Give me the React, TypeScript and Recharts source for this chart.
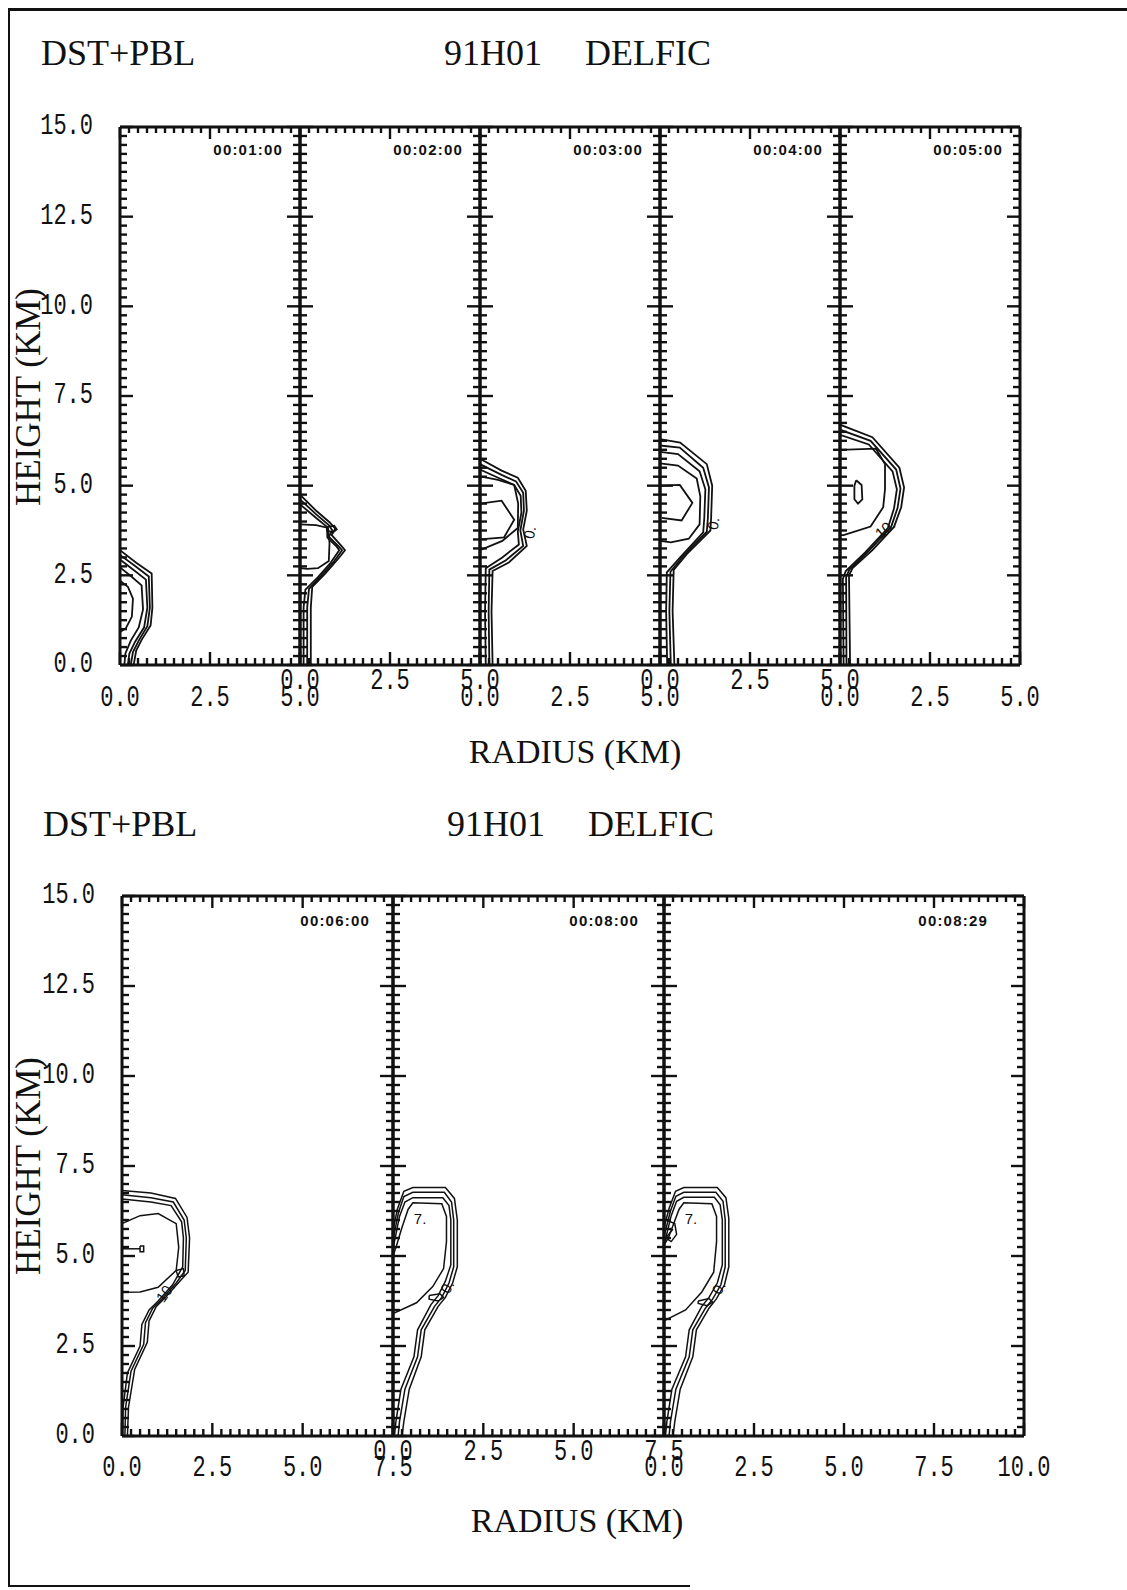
import React from "react";
import { LineChart, Line, XAxis, YAxis, ReferenceDot } from "recharts";

type XY = [number, number];
type Note = { x: number; y: number; text: string; angle?: number };

// axis tick labels
const Y_LABELS = ["0.0", "2.5", "5.0", "7.5", "10.0", "12.5", "15.0"];
const X_LABELS_5 = ["0.0", "2.5", "5.0"];
const X_LABELS_75 = ["0.0", "2.5", "5.0", "7.5"];
const X_LABELS_10 = ["0.0", "2.5", "5.0", "7.5", "10.0"];

const TOP_TIMES = ["00:01:00", "00:02:00", "00:03:00", "00:04:00", "00:05:00"];
const BOTTOM_TIMES = ["00:06:00", "00:08:00", "00:08:29"];

// contour lines, [radius km, height km]
const T1: XY[][] = [
  [[0, 3.2], [0.45, 2.85], [0.88, 2.55], [0.9, 1.6], [0.85, 1.1], [0.6, 0.7], [0.45, 0.4], [0.38, 0]],
  [[0, 3.07], [0.42, 2.76], [0.8, 2.47], [0.83, 1.6], [0.76, 1.08], [0.52, 0.68], [0.36, 0.36], [0.3, 0]],
  [[0, 2.94], [0.38, 2.65], [0.72, 2.38], [0.76, 1.6], [0.67, 1.05], [0.42, 0.65], [0.26, 0.32], [0.22, 0]],
  [[0, 2.72], [0.3, 2.48], [0.6, 2.22], [0.64, 1.55], [0.52, 1.05], [0.3, 0.68], [0.15, 0.32], [0.12, 0]],
  [[0, 2.35], [0.22, 2.18], [0.36, 1.85], [0.33, 1.35], [0.16, 1.02], [0, 0.92]],
];
const T2: XY[][] = [
  [[0, 4.75], [0.45, 4.3], [0.82, 3.98], [0.98, 3.8], [0.88, 3.62], [1.15, 3.32], [1.25, 3.2], [1.05, 2.95], [0.7, 2.55], [0.34, 2.18], [0.3, 1.6], [0.3, 0]],
  [[0, 4.62], [0.45, 4.2], [0.8, 3.9], [0.9, 3.75], [0.8, 3.58], [1.08, 3.3], [1.17, 3.2], [0.95, 2.9], [0.6, 2.5], [0.25, 2.12], [0.2, 1.6], [0.2, 0]],
  [[0, 4.48], [0.45, 4.1], [0.75, 3.85], [0.76, 3.55], [1.02, 3.3], [1.09, 3.2], [0.85, 2.85], [0.5, 2.45], [0.15, 2.1], [0.1, 1.6], [0.1, 0]],
  [[0, 3.92], [0.45, 3.9], [0.78, 3.82], [0.82, 3.4], [0.8, 2.9], [0.5, 2.7], [0.2, 2.68], [0, 2.7]],
  [[0.75, 3.85], [0.95, 3.88], [1.02, 3.78], [0.92, 3.7], [0.75, 3.75], [0.75, 3.85]],
];
const T3: XY[][] = [
  [[0, 5.75], [0.6, 5.42], [1.05, 5.22], [1.27, 4.86], [1.3, 4.3], [1.2, 3.78], [1.3, 3.32], [0.8, 2.86], [0.35, 2.62], [0.32, 1.5], [0.35, 0]],
  [[0, 5.6], [0.6, 5.3], [1.0, 5.12], [1.2, 4.8], [1.22, 4.3], [1.12, 3.75], [1.2, 3.32], [0.72, 2.92], [0.26, 2.66], [0.24, 1.5], [0.26, 0]],
  [[0, 5.45], [0.55, 5.2], [0.95, 5.02], [1.13, 4.72], [1.15, 4.25], [1.05, 3.72], [1.08, 3.36], [0.62, 3.0], [0.16, 2.7], [0.14, 1.5], [0.16, 0]],
  [[0, 5.26], [0.5, 5.16], [0.95, 5.02], [1.06, 4.5], [1.05, 3.82], [0.62, 3.46], [0, 3.2]],
  [[0, 4.5], [0.6, 4.58], [0.95, 4.05], [0.67, 3.56], [0, 3.5]],
];
const T4: XY[][] = [
  [[0, 6.3], [0.56, 6.2], [1.3, 5.6], [1.45, 5.0], [1.42, 4.1], [1.4, 3.75], [0.75, 3.1], [0.38, 2.65], [0.35, 1.5], [0.4, 0]],
  [[0, 6.12], [0.55, 6.06], [1.2, 5.5], [1.36, 4.95], [1.33, 4.1], [1.3, 3.72], [0.66, 3.06], [0.29, 2.6], [0.26, 1.5], [0.3, 0]],
  [[0, 5.94], [0.5, 5.88], [1.1, 5.4], [1.26, 4.9], [1.23, 4.1], [1.2, 3.7], [0.56, 3.0], [0.19, 2.58], [0.17, 1.5], [0.2, 0]],
  [[0, 5.62], [0.5, 5.56], [1.02, 5.2], [1.12, 4.7], [1.1, 3.92], [0.8, 3.52], [0.3, 3.42], [0, 3.46]],
  [[0, 5.0], [0.55, 5.02], [0.9, 4.52], [0.6, 4.03], [0.05, 4.1]],
];
const T5: XY[][] = [
  [[0, 6.7], [0.9, 6.35], [1.65, 5.5], [1.78, 4.95], [1.7, 4.4], [1.5, 3.85], [0.9, 3.2], [0.35, 2.7], [0.25, 2.5], [0.28, 0]],
  [[0, 6.56], [0.85, 6.25], [1.56, 5.45], [1.68, 4.92], [1.6, 4.38], [1.42, 3.85], [0.8, 3.18], [0.26, 2.66], [0.17, 2.45], [0.18, 0]],
  [[0, 6.42], [0.8, 6.15], [1.46, 5.4], [1.58, 4.9], [1.5, 4.36], [1.33, 3.82], [0.7, 3.14], [0.16, 2.62], [0.08, 2.4], [0.1, 0]],
  [[0, 6.0], [1.0, 6.03], [1.25, 5.6], [1.25, 4.9], [1.2, 4.4], [0.85, 3.86], [0.1, 3.62], [0, 3.62]],
  [[0.45, 5.15], [0.6, 5.02], [0.62, 4.62], [0.5, 4.5], [0.4, 4.62], [0.4, 5.0], [0.45, 5.15]],
];
const B1: XY[][] = [
  [[0, 6.82], [0.8, 6.75], [1.48, 6.6], [1.8, 6.07], [1.87, 5.5], [1.83, 4.55], [1.6, 4.3], [1.2, 3.85], [0.95, 3.6], [0.75, 3.2], [0.7, 2.6], [0.35, 1.85], [0.18, 0.8], [0.15, 0]],
  [[0, 6.7], [0.8, 6.62], [1.42, 6.5], [1.72, 6.0], [1.78, 5.5], [1.75, 4.6], [1.5, 4.25], [1.1, 3.8], [0.85, 3.55], [0.65, 3.15], [0.6, 2.55], [0.25, 1.8], [0.1, 0.8], [0.08, 0]],
  [[0, 6.58], [0.8, 6.5], [1.36, 6.4], [1.65, 5.95], [1.7, 5.5], [1.68, 4.7], [1.4, 4.2], [1.0, 3.75], [0.75, 3.5], [0.55, 3.1], [0.5, 2.5], [0.15, 1.75], [0.03, 0.8], [0.02, 0]],
  [[0, 5.9], [0.5, 6.12], [1.0, 6.18], [1.5, 5.9], [1.57, 5.24], [1.5, 4.6], [1.0, 4.13], [0.5, 4.0], [0, 3.99]],
  [[0, 5.2], [0.5, 5.2]],
  [[0.5, 5.28], [0.6, 5.28], [0.6, 5.12], [0.5, 5.12], [0.5, 5.28]],
  [[1.5, 4.6], [1.7, 4.65], [1.72, 4.45], [1.55, 4.42], [1.5, 4.6]],
];
const B2: XY[][] = [
  [[0, 5.7], [0.12, 6.3], [0.3, 6.8], [0.55, 6.9], [1.45, 6.9], [1.7, 6.6], [1.78, 6.0], [1.78, 4.7], [1.65, 4.25], [1.45, 3.85], [1.25, 3.6], [0.88, 2.95], [0.78, 2.2], [0.45, 1.3], [0.3, 0.4], [0.25, 0]],
  [[0, 5.45], [0.15, 6.2], [0.3, 6.65], [0.55, 6.77], [1.42, 6.77], [1.62, 6.5], [1.68, 6.0], [1.68, 4.7], [1.55, 4.25], [1.35, 3.85], [1.15, 3.6], [0.78, 2.95], [0.68, 2.2], [0.33, 1.3], [0.18, 0.4], [0.14, 0]],
  [[0, 5.2], [0.18, 6.1], [0.33, 6.5], [0.55, 6.62], [1.38, 6.62], [1.55, 6.4], [1.6, 6.0], [1.6, 4.75], [1.45, 4.3], [1.25, 3.9], [1.05, 3.65], [0.68, 2.95], [0.58, 2.2], [0.22, 1.3], [0.08, 0.4], [0.04, 0]],
  [[0, 3.4], [0.65, 3.7], [1.1, 4.15], [1.4, 4.65], [1.48, 5.4], [1.48, 6.1], [1.35, 6.45], [0.55, 6.48], [0.42, 6.3], [0.25, 5.8], [0.1, 5.3], [0, 5.0]],
  [[1.0, 3.9], [1.3, 3.95], [1.4, 3.85], [1.25, 3.75], [1.0, 3.8], [1.0, 3.9]],
];
const B3: XY[][] = [
  [[0, 5.8], [0.15, 6.35], [0.32, 6.8], [0.55, 6.9], [1.48, 6.9], [1.72, 6.62], [1.8, 6.05], [1.8, 4.7], [1.68, 4.2], [1.45, 3.8], [1.25, 3.55], [0.9, 2.95], [0.8, 2.2], [0.45, 1.3], [0.3, 0.4], [0.25, 0]],
  [[0, 5.55], [0.18, 6.25], [0.33, 6.66], [0.55, 6.77], [1.44, 6.77], [1.64, 6.52], [1.7, 6.0], [1.7, 4.7], [1.58, 4.2], [1.35, 3.8], [1.15, 3.55], [0.8, 2.95], [0.7, 2.2], [0.33, 1.3], [0.18, 0.4], [0.14, 0]],
  [[0, 5.3], [0.2, 6.12], [0.35, 6.52], [0.55, 6.63], [1.4, 6.63], [1.56, 6.42], [1.62, 6.0], [1.62, 4.75], [1.48, 4.25], [1.25, 3.85], [1.05, 3.6], [0.7, 2.95], [0.6, 2.2], [0.22, 1.3], [0.08, 0.4], [0.04, 0]],
  [[0, 3.2], [0.6, 3.5], [1.05, 4.0], [1.38, 4.55], [1.46, 5.4], [1.46, 6.1], [1.33, 6.45], [0.55, 6.48], [0.42, 6.3], [0.25, 5.85], [0.12, 5.5], [0, 5.3]],
  [[0.05, 6.0], [0.3, 5.9], [0.35, 5.6], [0.2, 5.4], [0.05, 5.5], [0.25, 5.75]],
  [[0.95, 3.75], [1.25, 3.82], [1.35, 3.72], [1.2, 3.62], [0.95, 3.68], [0.95, 3.75]],
];

// contour value labels
const NOTES_T3: Note[] = [{ x: 1.38, y: 3.7, text: "0.", angle: -80 }];
const NOTES_T4: Note[] = [{ x: 1.48, y: 3.95, text: "0.", angle: -80 }];
const NOTES_T5: Note[] = [{ x: 1.25, y: 3.8, text: "10.", angle: -40 }];
const NOTES_B1: Note[] = [{ x: 1.2, y: 4.0, text: "10.", angle: -55 }];
const NOTES_B2: Note[] = [
  { x: 0.75, y: 6.05, text: "7." },
  { x: 1.5, y: 4.15, text: "0.", angle: -60 },
];
const NOTES_B3: Note[] = [
  { x: 0.75, y: 6.05, text: "7." },
  { x: 1.52, y: 4.12, text: "0.", angle: -60 },
];

const ink = "#111";
const PAD = 110;

const steps = (max: number) => {
  const out: number[] = [];
  for (let v = 0; v <= max + 1e-9; v += 0.25) out.push(Math.round(v * 100) / 100);
  return out;
};
const isMajor = (v: number) => Math.abs(v / 2.5 - Math.round(v / 2.5)) < 1e-6;
const labelFor = (labels: string[], v: number) =>
  labels.find((l) => Math.abs(parseFloat(l) - v) < 1e-6);
const tickLen = (v: number) => (isMajor(v) ? 13 : 7);
const TICK_W = 2.4;

type PanelProps = {
  left: number;
  top: number;
  w: number;
  h: number;
  xMax: number;
  contours: XY[][];
  notes?: Note[];
  lineW: number;
  xLabels: string[];
  labelDy: number;
  showY: boolean;
};

const tickText = (x: number, y: number, s: string, anchor: "middle" | "end") => (
  <text
    transform={`translate(${x},${y}) scale(1,1.3)`}
    textAnchor={anchor}
    dominantBaseline="central"
    fontFamily="Liberation Mono, monospace"
    fontSize={22}
    fill={ink}
  >
    {s}
  </text>
);

function Panel(p: PanelProps) {
  const xTicks = steps(p.xMax);
  const yTicks = steps(15);

  const bottomTick = (props: any) => {
    const { x, y, payload } = props;
    const lab = labelFor(p.xLabels, payload.value);
    return (
      <g>
        <line x1={x} x2={x} y1={y} y2={y - tickLen(payload.value)} stroke={ink} strokeWidth={TICK_W} />
        {lab && tickText(x, y + p.labelDy, lab, "middle")}
      </g>
    );
  };
  const topTick = (props: any) => {
    const { x, y, payload } = props;
    return <line x1={x} x2={x} y1={y} y2={y + tickLen(payload.value) - 1} stroke={ink} strokeWidth={TICK_W} />;
  };
  const leftTick = (props: any) => {
    const { x, y, payload } = props;
    const lab = p.showY ? labelFor(Y_LABELS, payload.value) : undefined;
    return (
      <g>
        <line x1={x} x2={x + tickLen(payload.value)} y1={y} y2={y} stroke={ink} strokeWidth={TICK_W} />
        {lab && tickText(x - 27, y, lab, "end")}
      </g>
    );
  };
  const rightTick = (props: any) => {
    const { x, y, payload } = props;
    return <line x1={x} x2={x - tickLen(payload.value)} y1={y} y2={y} stroke={ink} strokeWidth={TICK_W} />;
  };

  const axisLine = { stroke: ink, strokeWidth: 3 };
  // axes need a size > 0 to be drawn, so each takes 1px out of the margin
  const m = PAD - 1;

  return (
    <div style={{ position: "absolute", left: p.left - PAD, top: p.top - PAD }}>
      <LineChart
        width={p.w + 2 * PAD}
        height={p.h + 2 * PAD}
        margin={{ top: m, right: m, bottom: m, left: m }}
      >
        <XAxis
          xAxisId="b"
          type="number"
          dataKey="x"
          domain={[0, p.xMax]}
          ticks={xTicks}
          interval={0}
          tick={bottomTick}
          tickLine={false}
          tickSize={0}
          tickMargin={0}
          height={1}
          axisLine={axisLine}
          allowDataOverflow
        />
        <XAxis
          xAxisId="t"
          orientation="top"
          type="number"
          dataKey="x"
          domain={[0, p.xMax]}
          ticks={xTicks}
          interval={0}
          tick={topTick}
          tickLine={false}
          tickSize={0}
          tickMargin={0}
          height={1}
          axisLine={axisLine}
          allowDataOverflow
        />
        <YAxis
          yAxisId="l"
          type="number"
          domain={[0, 15]}
          ticks={yTicks}
          interval={0}
          tick={leftTick}
          tickLine={false}
          tickSize={0}
          tickMargin={0}
          width={1}
          axisLine={axisLine}
          allowDataOverflow
        />
        <YAxis
          yAxisId="r"
          orientation="right"
          type="number"
          domain={[0, 15]}
          ticks={yTicks}
          interval={0}
          tick={rightTick}
          tickLine={false}
          tickSize={0}
          tickMargin={0}
          width={1}
          axisLine={axisLine}
          allowDataOverflow
        />
        {p.contours.map((c, i) => (
          <Line
            key={i}
            xAxisId="b"
            yAxisId="l"
            data={c.map(([x, y]) => ({ x, y }))}
            dataKey="y"
            type="linear"
            stroke={ink}
            strokeWidth={p.lineW}
            dot={false}
            activeDot={false}
            isAnimationActive={false}
          />
        ))}
        {(p.notes || []).map((n, i) => (
          <ReferenceDot
            key={"n" + i}
            xAxisId="b"
            yAxisId="l"
            x={n.x}
            y={n.y}
            r={0}
            fill="none"
            stroke="none"
            ifOverflow="visible"
            label={{
              value: n.text,
              position: "center",
              fontSize: 15,
              fontFamily: "Liberation Sans, sans-serif",
              fill: ink,
              angle: n.angle || 0,
            }}
          />
        ))}
      </LineChart>
    </div>
  );
}

const serif = "Liberation Serif, serif";

const Txt = ({ left, top, size, children, center }: any) => (
  <div
    style={{
      position: "absolute",
      left,
      top,
      fontFamily: serif,
      fontSize: size,
      lineHeight: 1,
      whiteSpace: "nowrap",
      color: ink,
      transform: center ? "translateX(-50%)" : undefined,
    }}
  >
    {children}
  </div>
);

const Time = ({ right, top, children }: any) => (
  <div
    style={{
      position: "absolute",
      right: 1127 - right,
      top,
      fontFamily: "Liberation Sans, Arial, sans-serif",
      fontWeight: 700,
      fontSize: 15,
      letterSpacing: 1.2,
      lineHeight: 1,
      color: ink,
    }}
  >
    {children}
  </div>
);

const YTitle = ({ cy }: { cy: number }) => (
  <div
    style={{
      position: "absolute",
      left: 28,
      top: cy,
      fontFamily: serif,
      fontSize: 35,
      lineHeight: 1,
      whiteSpace: "nowrap",
      color: ink,
      transform: "translate(-50%,-50%) rotate(-90deg)",
    }}
  >
    HEIGHT (KM)
  </div>
);

const TOP_SETS = [T1, T2, T3, T4, T5];
const TOP_NOTES = [[], [], NOTES_T3, NOTES_T4, NOTES_T5];
const TOP_LEFTS = [120, 300, 480, 660, 840];
const BOT_SETS = [B1, B2, B3];
const BOT_NOTES = [NOTES_B1, NOTES_B2, NOTES_B3];
const BOT_LEFTS = [122, 393, 664];
const BOT_XMAX = [7.5, 7.5, 10];
const BOT_LABELS = [X_LABELS_75, X_LABELS_75, X_LABELS_10];
const BOT_TIME_INSET = [23, 25, 36];

export default function App() {
  const PX = 36;
  return (
    <div style={{ position: "relative", width: 1127, height: 1590, background: "#fff", overflow: "hidden" }}>
      <style>{`body{margin:0}.recharts-surface{overflow:visible}`}</style>

      {/* page frame */}
      <div style={{ position: "absolute", left: 8, top: 8, width: 1119, height: 3, background: ink }} />
      <div style={{ position: "absolute", left: 8, top: 8, width: 2, height: 1578, background: ink }} />
      <div style={{ position: "absolute", left: 8, top: 1585, width: 682, height: 2, background: ink }} />

      {/* top figure */}
      <Txt left={41} top={35} size={36}>DST+PBL</Txt>
      <Txt left={444} top={35} size={36}>91H01</Txt>
      <Txt left={585} top={35} size={36}>DELFIC</Txt>
      <YTitle cy={397} />
      <Txt left={575} top={735} size={34} center>RADIUS (KM)</Txt>
      {TOP_SETS.map((c, i) => (
        <Panel
          key={"t" + i}
          left={TOP_LEFTS[i]}
          top={127}
          w={180}
          h={538}
          xMax={5}
          contours={c}
          notes={TOP_NOTES[i]}
          lineW={1.8}
          xLabels={X_LABELS_5}
          labelDy={i % 2 === 0 ? 34 : 17}
          showY={i === 0}
        />
      ))}
      {TOP_TIMES.map((t, i) => (
        <Time key={"tt" + i} right={TOP_LEFTS[i] + 180 - 17} top={142}>
          {t}
        </Time>
      ))}

      {/* bottom figure */}
      <Txt left={43} top={806} size={36}>DST+PBL</Txt>
      <Txt left={447} top={806} size={36}>91H01</Txt>
      <Txt left={588} top={806} size={36}>DELFIC</Txt>
      <YTitle cy={1166} />
      <Txt left={577} top={1504} size={34} center>RADIUS (KM)</Txt>
      {BOT_SETS.map((c, i) => (
        <Panel
          key={"b" + i}
          left={BOT_LEFTS[i]}
          top={896}
          w={Math.round(BOT_XMAX[i] * PX + (i < 2 ? 1 : 0))}
          h={540}
          xMax={BOT_XMAX[i]}
          contours={c}
          notes={BOT_NOTES[i]}
          lineW={1.5}
          xLabels={BOT_LABELS[i]}
          labelDy={i === 1 ? 17 : 33}
          showY={i === 0}
        />
      ))}
      {BOTTOM_TIMES.map((t, i) => (
        <Time
          key={"bt" + i}
          right={BOT_LEFTS[i] + Math.round(BOT_XMAX[i] * PX + (i < 2 ? 1 : 0)) - BOT_TIME_INSET[i]}
          top={913}
        >
          {t}
        </Time>
      ))}
    </div>
  );
}
